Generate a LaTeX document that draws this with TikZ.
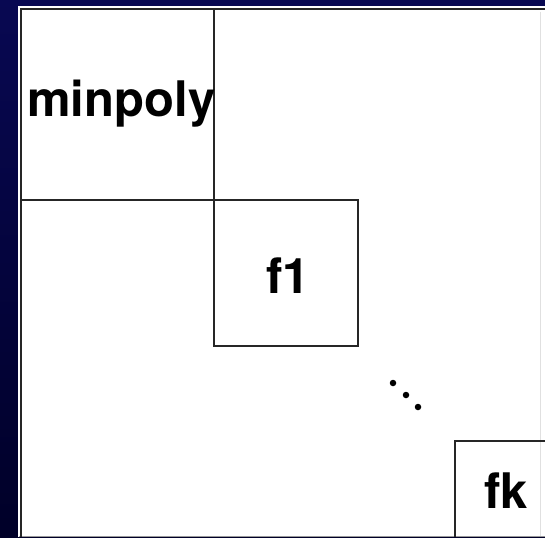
\documentclass[tikz,border=0pt]{standalone}
\usepackage{fontspec}
\setmainfont{TeX Gyre Heros}
\begin{document}
\begin{tikzpicture}[x=1pt,y=-1pt,
  cell/.style={draw=black!85,line width=1.6pt},
  lbl/.style={font=\fontsize{49}{52}\selectfont\bfseries,inner sep=0pt,anchor=base west},
  dotm/.style={fill=black,circle,inner sep=0pt,minimum size=6.5pt}]
\useasboundingbox (0,0) rectangle (545,537);
\shade[top color={rgb,255:red,8;green,8;blue,82},bottom color={rgb,255:red,0;green,0;blue,40}] (0,0) rectangle (545,537);
\fill[white] (18,6) rectangle (545,537);
\draw[black!40,line width=0.8pt] (19,536) -- (545,536);
\draw[black!12,line width=0.6pt] (540,12) -- (540,536);
\draw[cell] (21,537) -- (21,9) -- (545,9);
\coordinate (mtr) at (214,9);
\coordinate (ml) at (21,200);
\draw[cell] (mtr) -- (214,346) -- (358,346) -- (358,200) -- (ml);
\draw[cell] (455,537) -- (455,441) -- (545,441);
\node[lbl] (minpoly) at (27,117) {minpoly};
\node[lbl] (f1) at (266,293) {f1};
\node[lbl] (fk) at (484,508) {fk};
\node[dotm] (d1) at (393,383) {};
\node[dotm] (d2) at (406,395) {};
\node[dotm] (d3) at (418,407) {};
\end{tikzpicture}
\end{document}
